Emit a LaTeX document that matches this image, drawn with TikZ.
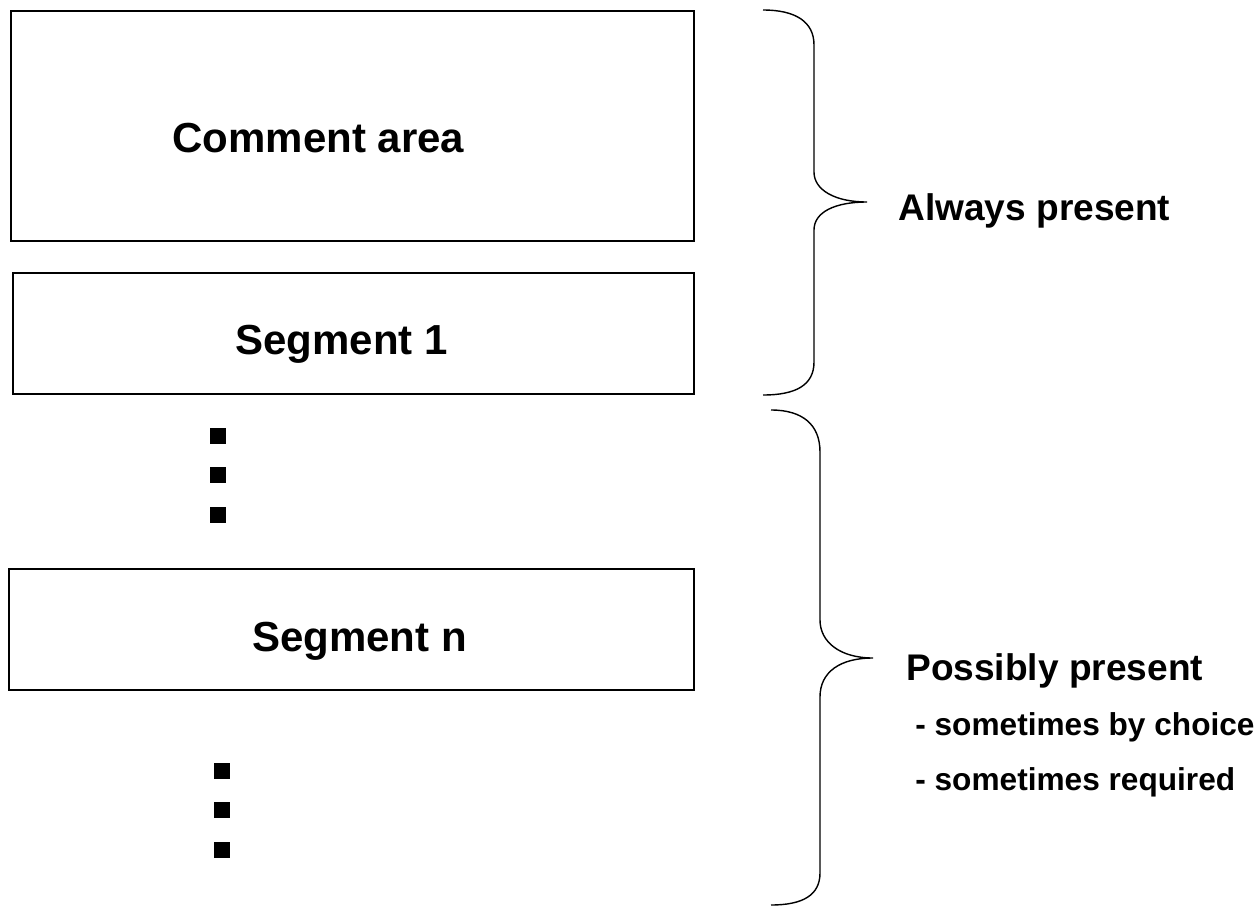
\documentclass[tikz,border=0pt]{standalone}
\usepackage{fontspec}
\setmainfont{Liberation Sans}
\usetikzlibrary{fit}

\tikzset{
  segbox/.style={draw,line width=1.1pt,inner sep=0pt},
  boxtext/.style={anchor=base,inner sep=0pt,font=\fontsize{23.9}{28}\selectfont\bfseries},
  sidetext/.style={anchor=base west,inner sep=0pt,font=\fontsize{21.1}{25}\selectfont\bfseries},
  subtext/.style={anchor=base west,inner sep=0pt,font=\fontsize{18}{22}\selectfont\bfseries},
  dotbox/.style={fill=black,inner sep=0pt,minimum size=0.32cm},
  curly/.style={line width=0.8pt}
}

\begin{document}
\begin{tikzpicture}[x=0.02cm,y=-0.02cm]
\useasboundingbox (0,0) rectangle (1259,907);

% boxes
\node[segbox,fit={(11,11) (694,241)}] (comment) {};
\node[segbox,fit={(13,273) (694,394)}] (seg1) {};
\node[segbox,fit={(9,569) (694,690)}] (segn) {};
\node[boxtext] (commentlbl) at (318.5,152) {Comment area};
\node[boxtext] (seg1lbl) at (341.5,354) {Segment 1};
\node[boxtext] (segnlbl) at (359.5,651) {Segment n};

% dots
\foreach \y [count=\i] in {436,475,515}
  \node[dotbox] (dota\i) at (218,\y) {};
\foreach \y [count=\i] in {771,810,850}
  \node[dotbox] (dotb\i) at (222,\y) {};

% braces
\draw[curly] (763,10) .. controls (796,10) and (814,22) .. (814,45)
  -- (814,172) .. controls (814,190) and (835,202) .. (867,202)
  .. controls (835,202) and (814,212) .. (814,230)
  -- (814,362) .. controls (814,385) and (796,395) .. (763,395);
\draw[curly] (771,410) .. controls (803,410) and (820,425) .. (820,452)
  -- (820,620) .. controls (820,642) and (840,658) .. (873,658)
  .. controls (840,658) and (820,672) .. (820,697)
  -- (820,873) .. controls (820,895) and (803,905) .. (771,905);

% labels
\node[sidetext] (always) at (898,220) {Always present};
\node[sidetext] (possibly) at (906,680) {Possibly present};
\node[subtext] (choice) at (915,735) {- sometimes by choice};
\node[subtext] (required) at (915,790) {- sometimes required};
\end{tikzpicture}
\end{document}
